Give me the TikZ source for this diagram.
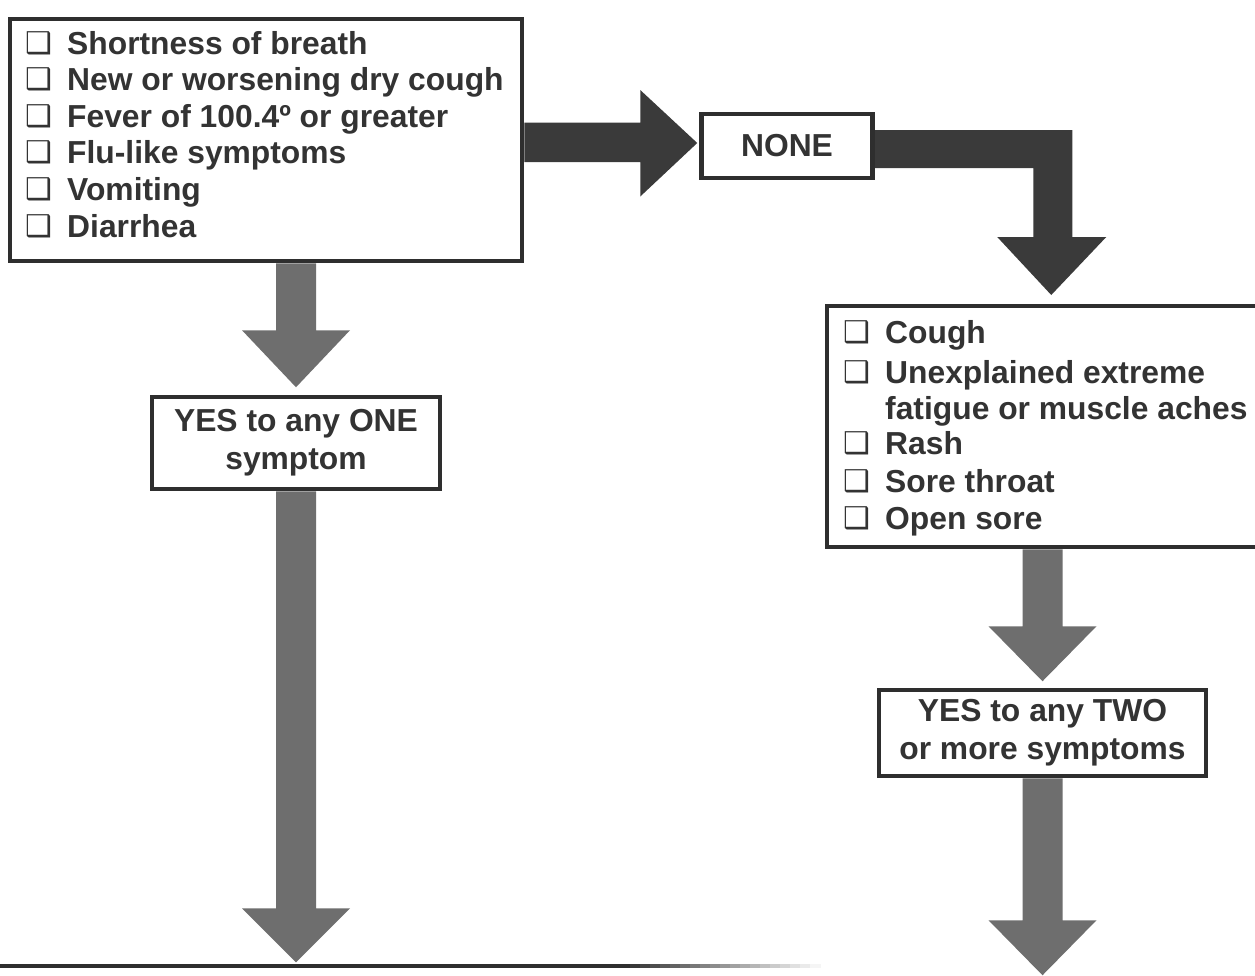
\documentclass[tikz,border=0pt]{standalone}
\usepackage{fontspec}
\setmainfont{Liberation Sans}
\newfontfamily\cbfont{DejaVu Sans}
\usetikzlibrary{calc}
\definecolor{ink}{HTML}{333333}
\definecolor{darkarr}{HTML}{3A3A3A}
\definecolor{grayarr}{HTML}{6E6E6E}
\definecolor{frame}{HTML}{2E2E2E}
\pgfdeclarelayer{bg}
\pgfdeclarelayer{arr}
\pgfsetlayers{bg,arr,main}
\newcommand\cb{\makebox[42pt][l]{\raisebox{1pt}{\cbfont\mdseries\fontsize{30}{30}\selectfont ❑}}}
% start, shaft length, head length, colour
\newcommand\dnarr[4]{%
  \fill[#4] (#1) ++(-20,0) -- ++(0,#2) -- ++(-34,0) -- ++(54,#3) -- ++(54,-#3) -- ++(-34,0) -- ++(0,-#2) -- cycle;}
\begin{document}
\begin{tikzpicture}[x=1pt,y=-1pt,
  box/.style={draw=frame, line width=4.5pt, fill=white, inner sep=0pt},
  item/.style={anchor=base west, inner sep=0pt, text=ink, font=\bfseries\fontsize{31.8}{36}\selectfont},
  lbl/.style={align=center, text=ink, font=\bfseries\fontsize{31.8}{38}\selectfont}]
\useasboundingbox (0,0) rectangle (1255,975);
\begin{pgfonlayer}{bg}
  \fill[white] (0,0) rectangle (1255,975);
\end{pgfonlayer}

% boxes
\node[box, minimum width=512pt, minimum height=242pt] (box1) at (266,140) {};
\node[box, minimum width=171pt, minimum height=64pt, lbl] (none) at (787,146) {NONE};
\node[box, minimum width=436pt, minimum height=241pt] (box2) at (1045,426.5) {};
\node[box, minimum width=288pt, minimum height=92pt, lbl] (yes1) at (296,443) {YES to any ONE\\symptom};
\node[box, minimum width=327pt, minimum height=86pt, lbl] (yes2) at (1042.5,733) {YES to any TWO\\or more symptoms};

% list 1
\foreach \t [count=\i] in {Shortness of breath, New or worsening dry cough, Fever of 100.4º or greater, Flu-like symptoms, Vomiting, Diarrhea}
  \node[item] (a\i) at (25,{54+36.6*(\i-1)}) {\cb\t};

% list 2
\node[item] (b1) at (843,343) {\cb Cough};
\node[item] (b2) at (843,383) {\cb Unexplained extreme};
\node[item] (b3) at (885,419) {fatigue or muscle aches};
\node[item] (b4) at (843,454) {\cb Rash};
\node[item] (b5) at (843,492) {\cb Sore throat};
\node[item] (b6) at (843,529) {\cb Open sore};

\begin{pgfonlayer}{arr}
  % box1 -> NONE
  \fill[darkarr] (box1.east) ++(0,-17.5) -- ++(116,0) -- ++(0,-32.5) -- ++(57,53) -- ++(-57,53.5) -- ++(0,-34.5) -- ++(-116,0) -- cycle;
  % NONE -> box2 (bent)
  \fill[darkarr] (none.east) ++(0,-16) -- ++(197.5,0) -- ++(0,107) -- ++(34,0) -- ++(-55,58) -- ++(-54,-58) -- ++(36,0) -- ++(0,-69) -- ++(-158.5,0) -- cycle;
  % vertical arrows
  \dnarr{box1.south -| yes1.north}{67}{57}{grayarr}
  \dnarr{yes1.south}{417}{54}{grayarr}
  \dnarr{box2.south -| yes2.north}{77}{55}{grayarr}
  \dnarr{yes2.south}{142}{55}{grayarr}
\end{pgfonlayer}

% bottom rule, fading out to the right
\fill[frame] (0,964) rectangle (620,968);
\foreach \k in {0,...,19}
  \fill[frame!\the\numexpr 100-5*\k\relax!white] ({620+10*\k},964) rectangle ({631+10*\k},968);
\end{tikzpicture}
\end{document}
